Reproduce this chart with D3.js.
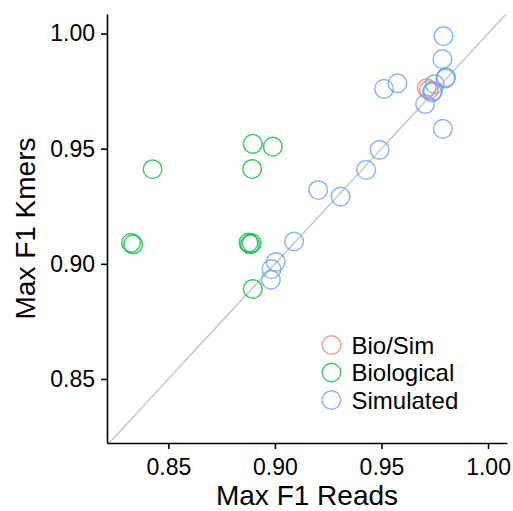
<!DOCTYPE html>
<html lang="en">
  <head>
    <meta charset="UTF-8" />
    <title>Max F1 Reads vs Kmers</title>
    <script src="https://d3js.org/d3.v7.min.js"></script>
    <style>
      body {
        margin: 0;
        background: #fff;
      }
      text {
        font-family: "Liberation Sans", Arial, sans-serif;
        fill: #000;
      }
    </style>
  </head>
  <body>
    <div id="plotContainer"></div>
    <script>
      const groups = ["Bio/Sim", "Biological", "Simulated"];
      const groupColors = ["#F8766D", "#00BA38", "#619CFF"];

      const bioSimReads = [0.9712, 0.9722];
      const bioSimKmers = [0.9763, 0.9755];

      const biologicalReads = [0.8426, 0.8896, 0.899, 0.8893, 0.8325, 0.8335, 0.8876, 0.8883, 0.8891, 0.8896];
      const biologicalKmers = [0.9411, 0.9521, 0.9509, 0.9412, 0.9091, 0.9085, 0.9092, 0.9085, 0.909, 0.8891];

      const simulatedReads = [0.9791, 0.9786, 0.9512, 0.9575, 0.9803, 0.98, 0.975, 0.9742, 0.9737, 0.9705, 0.9788, 0.9491, 0.9428, 0.9203, 0.9308, 0.909, 0.9004, 0.8984, 0.8981];
      const simulatedKmers = [0.9989, 0.9889, 0.976, 0.9784, 0.981, 0.9805, 0.9781, 0.9752, 0.9745, 0.9694, 0.9586, 0.9495, 0.9408, 0.9321, 0.9292, 0.9097, 0.9008, 0.8977, 0.8931];

      const tickValues = [0.85, 0.9, 0.95, 1.0];

      const points = [];
      [[bioSimReads, bioSimKmers], [biologicalReads, biologicalKmers], [simulatedReads, simulatedKmers]].forEach(([xs, ys], gi) => {
        xs.forEach((v, i) => points.push({ reads: v, kmers: ys[i], group: groups[gi] }));
      });

      const margins = { top: 14, right: 6, bottom: 68, left: 107 };
      const width = 513 - margins.left - margins.right;
      const height = 511 - margins.top - margins.bottom;

      const svgRoot = d3
        .select("#plotContainer")
        .append("svg")
        .attr("width", 513)
        .attr("height", 511);

      const svg = svgRoot
        .append("g")
        .attr("transform", `translate(${margins.left},${margins.top})`);

      const x = d3.scaleLinear().domain([0.8212, 1.0089]).range([0, width]);
      const y = d3.scaleLinear().domain([0.8222, 1.0085]).range([height, 0]);
      const color = d3.scaleOrdinal().domain(groups).range(groupColors);

      svgRoot
        .append("defs")
        .append("clipPath")
        .attr("id", "plotClip")
        .append("rect")
        .attr("width", width)
        .attr("height", height);

      // y = x reference line
      const lo = Math.min(x.domain()[0], y.domain()[0]);
      const hi = Math.max(x.domain()[1], y.domain()[1]);
      svg
        .append("line")
        .attr("clip-path", "url(#plotClip)")
        .attr("x1", x(lo))
        .attr("y1", y(lo))
        .attr("x2", x(hi))
        .attr("y2", y(hi))
        .attr("stroke", "#cccccc")
        .attr("stroke-width", 1.6);

      svg
        .selectAll("circle.pt")
        .data(points)
        .enter()
        .append("circle")
        .attr("class", "pt")
        .attr("cx", (d) => x(d.reads))
        .attr("cy", (d) => y(d.kmers))
        .attr("r", 9.3)
        .attr("fill", "none")
        .attr("stroke", (d) => color(d.group))
        .attr("stroke-opacity", 0.75)
        .attr("stroke-width", 1.5);

      const xAxis = svg
        .append("g")
        .attr("transform", `translate(0,${height})`)
        .call(d3.axisBottom(x).tickValues(tickValues).tickFormat(d3.format(".2f")).tickSize(6).tickSizeOuter(0).tickPadding(10));
      const yAxis = svg
        .append("g")
        .call(d3.axisLeft(y).tickValues(tickValues).tickFormat(d3.format(".2f")).tickSize(6).tickSizeOuter(0).tickPadding(6));

      [xAxis, yAxis].forEach((ax) => {
        ax.select(".domain").attr("stroke", "#000").attr("stroke-width", 1.6);
        ax.selectAll(".tick line").attr("stroke", "#000").attr("stroke-width", 1.6);
        ax.selectAll(".tick text").style("font-size", "23px").attr("fill", "#000");
      });

      svg
        .append("text")
        .attr("x", width / 2)
        .attr("y", height + 62)
        .attr("text-anchor", "middle")
        .style("font-size", "28px")
        .text("Max F1 Reads");

      svg
        .append("text")
        .attr("transform", `translate(${-72},${height / 2}) rotate(-90)`)
        .attr("text-anchor", "middle")
        .style("font-size", "28px")
        .text("Max F1 Kmers");

      const legend = svg
        .append("g")
        .attr("transform", `translate(${331.5 - margins.left},${345 - margins.top})`);

      groups.forEach((g, i) => {
        const row = legend.append("g").attr("transform", `translate(0,${i * 27.5})`);
        row
          .append("circle")
          .attr("r", 9.3)
          .attr("fill", "none")
          .attr("stroke", color(g))
          .attr("stroke-opacity", 0.75)
          .attr("stroke-width", 1.5);
        row
          .append("text")
          .attr("x", 20)
          .attr("y", 8.5)
          .style("font-size", "24px")
          .text(g);
      });
    </script>
  </body>
</html>
